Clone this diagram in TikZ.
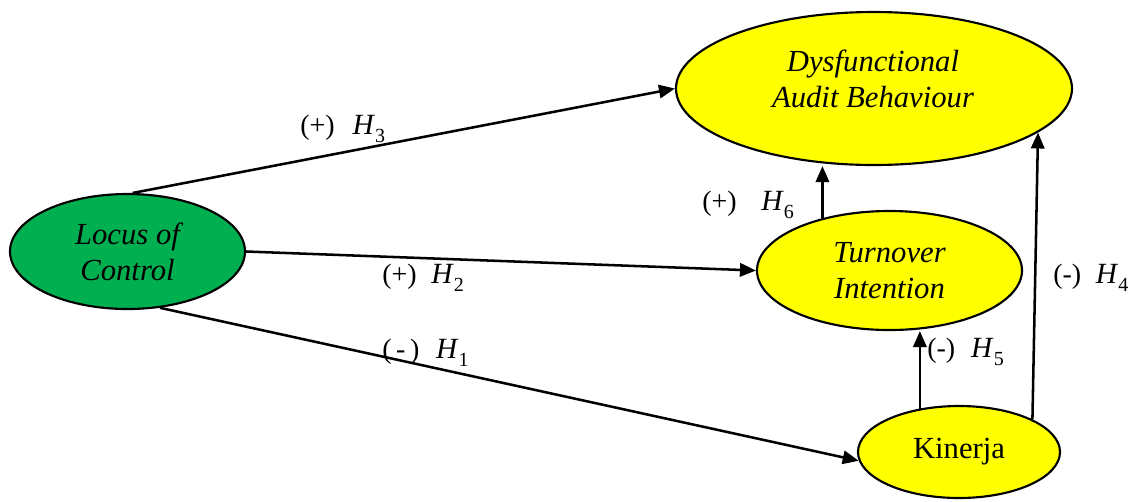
\documentclass[tikz,border=0pt]{standalone}
\usepackage{fontspec}
\setmainfont{Liberation Serif}
\newfontfamily\tnr{Liberation Serif}
\usetikzlibrary{arrows.meta,shapes.geometric}
\definecolor{lgreen}{RGB}{0,176,80}
\definecolor{lyellow}{RGB}{255,255,0}
\newcommand\Hyp[1]{{\fontsize{22}{22}\selectfont\textit{H}}\raisebox{-6pt}{\fontsize{15}{15}\selectfont #1}}
\tikzset{
  ell/.style={ellipse, draw=black, line width=1.6pt, inner sep=0pt, align=center,
              font=\tnr\fontsize{23}{27}\selectfont\itshape},
  etxt/.style={inner sep=0pt, align=center, font=\tnr\fontsize{23}{27}\selectfont\itshape},
  arr/.style={line width=1.9pt, -{Triangle[length=12pt,width=10pt]}},
  lbl/.style={inner sep=0pt, anchor=base west, font=\tnr\fontsize{21}{21}\selectfont}
}
\begin{document}
\begin{tikzpicture}[x=0.75pt,y=-0.75pt]
\useasboundingbox (0,0) rectangle (1139,501);
% nodes
\node[ell, fill=lgreen, minimum width=176.25pt, minimum height=86.25pt] (lc) at (127.5,251.5) {Locus of\\Control};
\node[ell, fill=lyellow, minimum width=297pt, minimum height=114.75pt] (dab) at (874,88.5) {};
\node[etxt] (dabt) at (873,79) {Dysfunctional\\Audit Behaviour};
\node[ell, fill=lyellow, minimum width=198.75pt, minimum height=89.25pt] (ti) at (889.5,270.5) {Turnover\\Intention};
\node[ell, fill=lyellow, minimum width=151.5pt, minimum height=69pt, font=\tnr\fontsize{23}{27}\selectfont] (ki) at (959,452) {Kinerja};
% connectors
\draw[arr] (lc.85) -- (dab.west);
\draw[arr] (lc.east) -- (ti.west);
\draw[arr] (lc.-60) -- (ki.185);
\draw[arr] (ti.142) -- (ti.142 |- dab.south);
\draw[arr] (ki.132) -- (ki.132 |- ti.south);
\draw[arr] (ki.24) -- (dab.-15);
% labels
\node[lbl] (l3) at (300,134) {(+)\hspace{13.5pt}\Hyp{3}};
\node[lbl] (l2) at (382,283) {(+)\hspace{11pt}\Hyp{2}};
\node[lbl] (l1) at (382,358) {(\,-\,)\hspace{12.5pt}\Hyp{1}};
\node[lbl] (l6) at (702,210) {(+)\hspace{18.5pt}\Hyp{6}};
\node[lbl] (l5) at (927,357) {(-)\hspace{12pt}\Hyp{5}};
\node[lbl] (l4) at (1053,283) {(-)\hspace{11pt}\Hyp{4}};
\end{tikzpicture}
\end{document}
